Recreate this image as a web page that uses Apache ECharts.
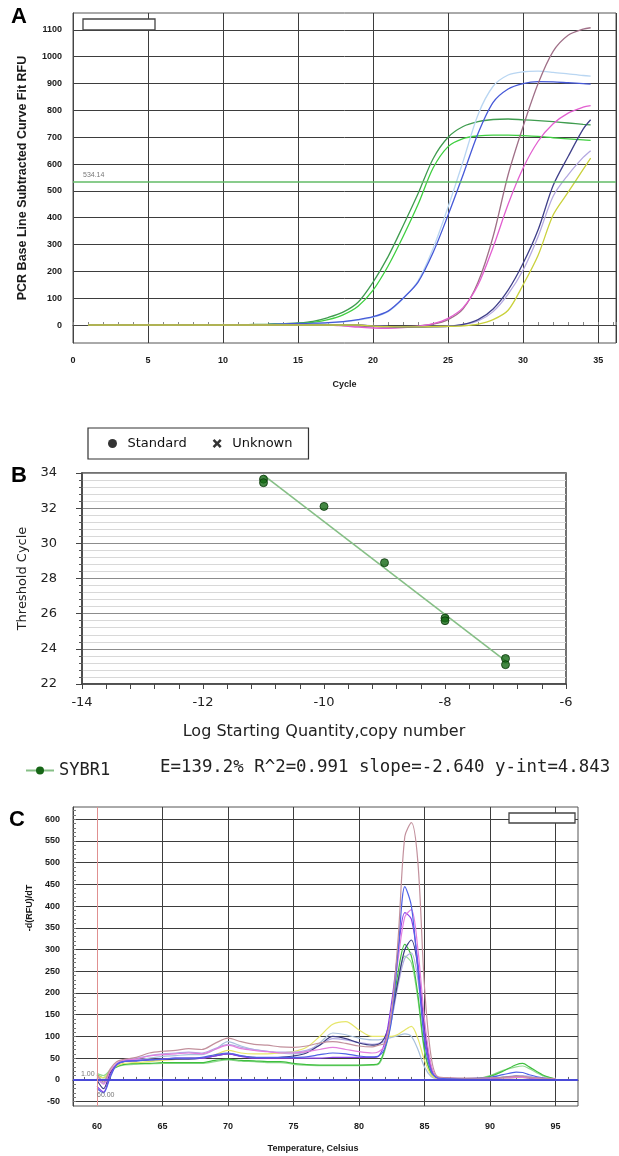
<!DOCTYPE html>
<html><head><meta charset="utf-8">
<script src="https://cdn.jsdelivr.net/npm/echarts@6/dist/echarts.min.js"></script>
<style>html,body{margin:0;padding:0;background:#fff}#c{width:619px;height:1156px}</style>
</head><body><div id="c"></div>
<script>
// ---------------- Panel A: amplification curves ----------------
const cyclesA = [1,2,3,4,5,6,7,8,9,10,11,12,13,14,15,16,17,18,19,20,21,22,23,24,25,26,27,28,29,30,31,32,33,34,34.5];
const aDarkGreen = [0,0,0,0,0,0,0,0,0,1,1,2,3,5,8,14,28,48,85,160,255,370,490,620,700,740,758,766,768,765,762,758,753,748,746];
const aLightGreen = [0,0,0,0,0,0,0,0,0,0,1,1,2,4,6,10,20,38,70,130,220,330,450,585,665,695,705,708,708,706,703,698,694,690,688];
const aBlue = [0,0,0,0,0,0,0,0,0,0,1,1,2,4,6,7,9,13,20,31,52,100,160,270,410,560,715,830,880,900,907,906,903,900,898];
const aPaleBlue = [0,0,0,0,0,0,0,0,0,0,0,1,1,3,5,6,8,12,18,29,50,98,165,285,440,610,785,890,932,944,946,942,936,930,928];
const aMauve = [0,0,0,-1,-1,0,0,0,0,0,0,0,0,0,0,0,0,-2,-4,-6,-7,-6,-3,3,20,60,160,330,560,740,900,1020,1080,1103,1108];
const aPink = [0,0,0,0,0,0,0,0,0,0,0,0,0,0,0,0,0,-3,-8,-11,-12,-10,-5,5,25,65,150,290,450,585,685,750,790,812,818];
const aSlate = [0,0,0,0,0,0,0,0,0,0,0,0,0,0,0,0,0,0,0,-4,-6,-8,-8,-7,-5,2,20,60,130,230,355,520,628,730,765];
const aLavender = [0,0,0,0,0,0,0,0,0,0,0,0,0,0,0,0,0,0,0,-3,-5,-6,-6,-5,-4,2,15,50,115,205,330,480,560,625,650];
const aYellow = [0,0,0,0,0,0,0,0,0,0,0,0,0,0,0,0,0,0,0,-4,-6,-7,-7,-6,-5,-3,3,20,55,150,260,410,495,580,622];
const thresholdA = 534.14;
const yTicksA = [0,100,200,300,400,500,600,700,800,900,1000,1100];

// ---------------- Panel B: standard curve ----------------
const stdX = [-11,-11,-10,-9,-8,-8,-7,-7];
const stdY = [33.65,33.45,32.1,28.9,25.75,25.6,23.45,23.1];
const fitX = [-11,-7];
const fitY = [33.88,23.32];
const statsText = 'E=139.2% R^2=0.991 slope=-2.640 y-int=4.843';

// ---------------- Panel C: melt curves ----------------
const tempsC = [60,60.5,61,61.5,62,63,64,65,66,67,68,69,70,71,72,73,74,75,76,77,78,79,80,81,81.5,82,82.5,83,83.5,84,84.5,85,85.5,86,87,88,89,90,91,92,92.5,93,94,95];
const cMauve = [12,-5,25,42,47,52,62,66,68,72,70,84,96,88,82,80,76,75,78,85,88,84,78,76,80,85,160,330,560,592,500,215,55,8,5,4,4,5,6,8,8,6,4,3];
const cBlue = [-20,-30,5,35,42,44,46,48,50,50,52,58,62,56,52,52,52,52,53,58,62,60,55,53,55,75,140,300,445,400,250,90,20,5,3,3,4,6,12,18,17,12,5,2];
const cPink = [5,-10,20,38,45,48,55,58,60,62,60,70,80,72,68,65,62,62,65,70,75,70,65,62,65,80,160,280,375,392,300,140,35,6,4,3,3,4,5,6,6,5,3,2];
const cSlate = [0,-20,15,35,42,44,46,47,48,48,50,55,60,55,52,50,52,55,62,80,100,95,85,80,82,100,150,230,300,322,260,120,30,5,3,2,3,4,6,8,7,5,3,2];
const cGreen = [12,5,20,30,35,38,38,40,40,40,40,45,48,45,44,42,42,38,35,34,34,34,34,35,38,75,150,250,312,285,195,70,15,3,2,2,3,8,20,35,38,30,12,2];
const cYellow = [10,5,20,32,38,40,42,45,47,50,50,58,68,62,60,60,62,65,75,100,128,134,115,100,100,100,100,105,115,123,95,45,12,3,2,2,2,3,4,5,5,4,2,1];
const cPaleBlue = [8,0,18,35,42,46,50,54,56,58,58,70,88,78,70,66,62,60,65,85,108,104,96,92,92,95,98,102,106,100,70,30,8,3,2,2,3,4,6,8,8,6,3,2];
const cPurple = [-15,-28,10,35,42,45,47,48,50,50,50,55,60,54,50,50,50,50,50,50,52,52,52,52,55,90,180,300,385,370,270,105,25,4,3,3,3,4,5,6,6,5,3,2];
const cLavender = [5,-8,18,36,44,50,56,60,62,64,62,72,82,75,70,66,64,64,68,80,95,92,86,82,84,90,140,220,280,292,230,110,25,5,3,3,3,4,6,10,10,8,4,2];
const cLightGreen = [15,10,22,30,34,36,37,38,38,38,38,42,46,43,42,40,40,36,34,33,33,33,33,34,36,70,140,230,285,270,185,65,14,3,2,2,3,10,22,30,32,26,10,2];
const xTicksC = [60,65,70,75,80,85,90,95];
const xMinorTicksC = [59,60,61,62,63,64,65,66,67,68,69,70,71,72,73,74,75,76,77,78,79,80,81,82,83,84,85,86,87,88,89,90,91,92,93,94,95,96];
const yTicksC = [-50,0,50,100,150,200,250,300,350,400,450,500,550,600];
const yMinorTicksC = [-50,-40,-30,-20,-10,0,10,20,30,40,50,60,70,80,90,100,110,120,130,140,150,160,170,180,190,200,210,220,230,240,250,260,270,280,290,300,310,320,330,340,350,360,370,380,390,400,410,420,430,440,450,460,470,480,490,500,510,520,530,540,550,560,570,580,590,600,610,620];
const markerC = 60;

// ---------------- build ----------------
const zip = (xs, ys) => xs.map((x, i) => [x, ys[i]]);
const plain = v => String(v);
const lblFont = {fontFamily: 'Liberation Sans, Arial', fontWeight: 'bold', fontSize: 9, color: '#1a1a1a'};
const gridLine = {show: true, lineStyle: {color: '#3d3d3d', width: 1}};

const aSeries = [
  ['dg', aDarkGreen, '#3f9c4f'], ['lg', aLightGreen, '#3fcf40'], ['pb', aPaleBlue, '#b9d6f2'],
  ['bl', aBlue, '#4659d8'], ['mv', aMauve, '#a07088'], ['pk', aPink, '#e25fd0'],
  ['lv', aLavender, '#b4a8e0'], ['sl', aSlate, '#40408a'], ['yl', aYellow, '#cad13c']
].map(([n, d, c], i) => {
  const s = {name: 'A_' + n, type: 'line', xAxisIndex: 0, yAxisIndex: 0, data: zip(cyclesA, d),
    showSymbol: false, smooth: 0.3, lineStyle: {color: c, width: 1.3}, itemStyle: {color: c}, z: 3};
  if (i === 0) {
    s.markLine = {silent: true, symbol: 'none', data: [{yAxis: thresholdA}],
      lineStyle: {color: '#62bb66', width: 1.5, type: 'solid'},
      label: {show: true, position: 'insideStartTop', formatter: String(thresholdA), color: '#777', fontSize: 7, distance: [10, 3]}};
  }
  return s;
});

const cSeries = [
  ['lgC', cLightGreen, '#92da92'], ['gC', cGreen, '#3fbf3f'], ['pbC', cPaleBlue, '#a8c0dc'],
  ['yC', cYellow, '#e6e66a'], ['lvC', cLavender, '#b2aae4'], ['slC', cSlate, '#3c3c82'],
  ['puC', cPurple, '#8a40e8'], ['pkC', cPink, '#e27ede'], ['bC', cBlue, '#4f62e6'], ['mC', cMauve, '#c2909c']
].map(([n, d, c], i) => {
  const s = {name: 'C_' + n, type: 'line', xAxisIndex: 2, yAxisIndex: 2, data: zip(tempsC, d),
    showSymbol: false, smooth: 0.3, lineStyle: {color: c, width: 1.2}, itemStyle: {color: c}, z: 3};
  if (i === 0) {
    s.markLine = {silent: true, symbol: 'none', label: {show: false}, z: 5,
      data: [{yAxis: 0, lineStyle: {color: '#4a4ad8', width: 2, type: 'solid'}},
             {xAxis: markerC, lineStyle: {color: '#e09090', width: 1, type: 'solid'}}]};
  }
  return s;
});

const chart = echarts.init(document.getElementById('c'));
chart.setOption({
  animation: false,
  backgroundColor: '#fff',
  grid: [
    {left: 73, top: 13, width: 545, height: 330, show: true, borderColor: '#555', borderWidth: 1},
    {left: 82, top: 473, width: 484, height: 211, show: true, borderColor: '#444', borderWidth: 1.5},
    {left: 73, top: 807, width: 505, height: 299, show: true, borderColor: '#555', borderWidth: 1}
  ],
  xAxis: [
    {gridIndex: 0, type: 'value', min: 0, max: 36.19, interval: 5,
     axisLine: {lineStyle: {color: '#444'}}, axisTick: {show: true, inside: true, length: 3, lineStyle: {color: '#777'}},
     minorTick: {show: true, splitNumber: 5, length: 3, lineStyle: {color: '#888'}},
     splitLine: gridLine,
     axisLabel: Object.assign({margin: 13, formatter: v => (v % 5 === 0 ? String(v) : '')}, lblFont),
     name: 'Cycle', nameLocation: 'middle', nameGap: 37,
     nameTextStyle: {fontFamily: 'Liberation Sans, Arial', fontWeight: 'bold', fontSize: 9, color: '#1a1a1a'}},
    {gridIndex: 1, type: 'value', min: -14, max: -6, interval: 2,
     axisLine: {lineStyle: {color: '#444', width: 1.5}}, axisTick: {show: true, length: 5, lineStyle: {color: '#444'}},
     minorTick: {show: true, splitNumber: 5, length: 5, lineStyle: {color: '#444'}},
     splitLine: {show: false},
     axisLabel: {margin: 12, fontFamily: 'DejaVu Sans', fontSize: 13, color: '#222'},
     name: 'Log Starting Quantity,copy number', nameLocation: 'middle', nameGap: 40,
     nameTextStyle: {fontFamily: 'DejaVu Sans', fontSize: 16, color: '#222'}},
    {gridIndex: 2, type: 'value', min: 58.17, max: 96.72,
     axisLine: {lineStyle: {color: '#444'}}, axisTick: {show: false, customValues: xTicksC},
     splitLine: gridLine,
     axisLabel: Object.assign({margin: 16, customValues: xTicksC, formatter: plain}, lblFont),
     name: 'Temperature, Celsius', nameLocation: 'middle', nameGap: 38,
     nameTextStyle: {fontFamily: 'Liberation Sans, Arial', fontWeight: 'bold', fontSize: 9, color: '#1a1a1a', padding: [0, 25, 0, 0]}},
    {gridIndex: 2, type: 'value', min: 58.17, max: 96.72, position: 'bottom',
     axisLine: {show: false}, axisLabel: {show: false}, splitLine: {show: false},
     axisTick: {show: true, inside: true, length: 3, customValues: xMinorTicksC, lineStyle: {color: '#666'}}}
  ],
  yAxis: [
    {gridIndex: 0, type: 'value', min: -67, max: 1163,
     axisLine: {show: true, lineStyle: {color: '#444'}}, axisTick: {show: false, customValues: yTicksA},
     splitLine: gridLine,
     axisLabel: Object.assign({margin: 11, customValues: yTicksA, formatter: plain}, lblFont),
     name: 'PCR Base Line Subtracted Curve Fit RFU', nameLocation: 'middle', nameGap: 44,
     nameTextStyle: {fontFamily: 'Liberation Sans, Arial', fontWeight: 'bold', fontSize: 12.5, color: '#1a1a1a'}},
    {gridIndex: 1, type: 'value', min: 22, max: 34, interval: 2,
     axisLine: {show: true, lineStyle: {color: '#444', width: 1.5}},
     axisTick: {show: true, length: 6, lineStyle: {color: '#444'}},
     minorTick: {show: true, splitNumber: 5, length: 3, lineStyle: {color: '#555'}},
     splitLine: {show: true, lineStyle: {color: '#8c8c8c', width: 1}},
     minorSplitLine: {show: true, lineStyle: {color: '#d8d8d8', width: 1}},
     axisLabel: {margin: 25, fontFamily: 'DejaVu Sans', fontSize: 13, color: '#222'},
     name: 'Threshold Cycle', nameLocation: 'middle', nameGap: 52,
     nameTextStyle: {fontFamily: 'DejaVu Sans', fontSize: 13, color: '#222'}},
    {gridIndex: 2, type: 'value', min: -60, max: 628,
     axisLine: {show: true, lineStyle: {color: '#444'}}, axisTick: {show: false, customValues: yTicksC},
     splitLine: gridLine,
     axisLabel: Object.assign({margin: 13, customValues: yTicksC, formatter: plain}, lblFont)},
    {gridIndex: 2, type: 'value', min: -60, max: 628, position: 'left',
     axisLine: {show: false}, axisLabel: {show: false}, splitLine: {show: false},
     axisTick: {show: true, inside: true, length: 3, customValues: yMinorTicksC, lineStyle: {color: '#777'}}}
  ],
  legend: [
    {left: 88, top: 428, orient: 'horizontal', borderColor: '#333', borderWidth: 1.2, padding: [9, 16, 9, 20],
     itemWidth: 20, itemHeight: 9, itemGap: 26,
     textStyle: {fontFamily: 'DejaVu Sans', fontSize: 13, color: '#111'},
     data: [{name: 'Standard', icon: 'circle', itemStyle: {color: '#000', borderWidth: 0}},
            {name: 'Unknown', icon: 'path://M0,2 L2,0 L5,3 L8,0 L10,2 L7,5 L10,8 L8,10 L5,7 L2,10 L0,8 L3,5 Z', itemStyle: {color: '#000', borderWidth: 0}}]},
    {left: 20, top: 757, itemWidth: 28, itemHeight: 10,
     textStyle: {fontFamily: 'DejaVu Sans Mono', fontSize: 17, color: '#222'},
     data: ['SYBR1']}
  ],
  series: aSeries.concat([
    {name: 'SYBR1', type: 'line', xAxisIndex: 1, yAxisIndex: 1, data: zip(fitX, fitY),
     symbol: 'circle', symbolSize: 7, showSymbol: false,
     lineStyle: {color: '#86bf86', width: 1.6}, itemStyle: {color: '#166616'}, z: 3},
    {name: 'Standard', type: 'scatter', xAxisIndex: 1, yAxisIndex: 1, data: zip(stdX, stdY),
     symbolSize: 8, itemStyle: {color: '#146914', borderColor: '#0a360a', borderWidth: 1}, z: 4},
    {name: 'Unknown', type: 'scatter', xAxisIndex: 1, yAxisIndex: 1, data: [], itemStyle: {color: '#000'}}
  ]).concat(cSeries),
  graphic: [
    {type: 'text', left: 11, top: 6, style: {text: 'A', font: 'bold 22px Liberation Sans, Arial', fill: '#000'}},
    {type: 'text', left: 11, top: 465, style: {text: 'B', font: 'bold 22px Liberation Sans, Arial', fill: '#000'}},
    {type: 'text', left: 9, top: 809, style: {text: 'C', font: 'bold 22px Liberation Sans, Arial', fill: '#000'}},
    {type: 'rect', shape: {x: 83, y: 19, width: 72, height: 11}, style: {fill: '#fff', stroke: '#444', lineWidth: 1.3}, z: 10},
    {type: 'rect', shape: {x: 509, y: 813, width: 66, height: 10}, style: {fill: '#fff', stroke: '#444', lineWidth: 1.3}, z: 10},
    {type: 'text', x: 81, y: 1071, style: {text: '1.00', font: '7px Liberation Sans, Arial', fill: '#777'}, z: 10},
    {type: 'text', x: 97, y: 1092, style: {text: '60.00', font: '7px Liberation Sans, Arial', fill: '#777'}, z: 10},
    {type: 'text', x: 30, y: 908, rotation: Math.PI / 2,
     style: {text: '-d(RFU)/dT', font: 'bold 9px Liberation Sans, Arial', fill: '#1a1a1a', textAlign: 'center', textVerticalAlign: 'middle'}},
    {type: 'text', x: 160, y: 767, style: {text: statsText, font: '17.4px DejaVu Sans Mono', fill: '#222', textVerticalAlign: 'middle'}}
  ]
});
</script>
</body></html>
